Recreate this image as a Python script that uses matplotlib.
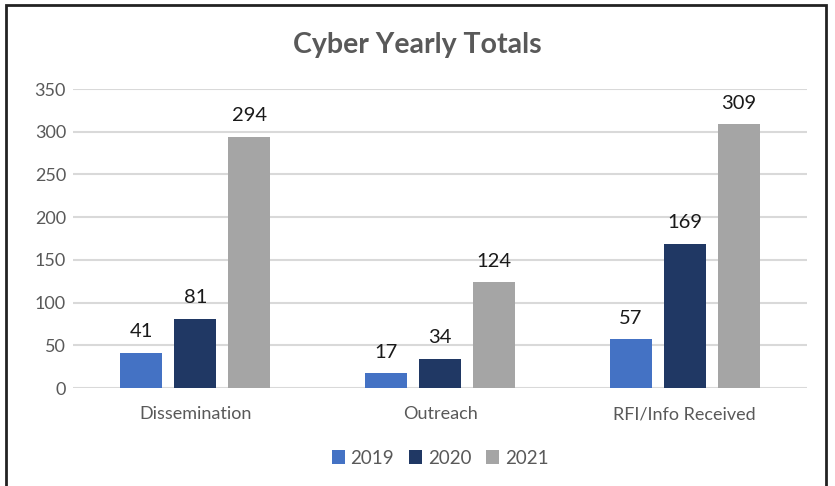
import numpy as np
import matplotlib.pyplot as plt
from matplotlib.patches import Rectangle

categories = ['Dissemination', 'Outreach', 'RFI/Info Received']
years = ['2019', '2020', '2021']
values_2019 = [41, 17, 57]
values_2020 = [81, 34, 169]
values_2021 = [294, 124, 309]
colors = ['#4472C4', '#203864', '#A5A5A5']

plt.rcParams['font.family'] = ['Lato', 'DejaVu Sans']

fig = plt.figure(figsize=(8.35, 4.86), dpi=100)
ax = fig.add_axes([73 / 835, 1 - 388 / 486, (807 - 73) / 835, (388 - 89) / 486])

x = np.arange(len(categories))
width = 0.172
step = 0.221
series = [values_2019, values_2020, values_2021]
for i, (vals, year, col) in enumerate(zip(series, years, colors)):
    bars = ax.bar(x + (i - 1) * step, vals, width, color=col, label=year, zorder=3)
    for b, v in zip(bars, vals):
        ax.annotate(str(v), (b.get_x() + b.get_width() / 2, v),
                    xytext=(0, 9), textcoords='offset points',
                    ha='center', va='bottom', fontsize=14.5, color='#1a1a1a')

ax.set_xlim(-0.5, 2.5)
ax.set_ylim(0, 350)
ax.set_yticks(range(0, 351, 50))
ax.set_xticks(x)
ax.set_xticklabels(categories)
ax.yaxis.grid(True, color='#D9D9D9', linewidth=1.5, zorder=0)
ax.set_axisbelow(True)
for s in ax.spines.values():
    s.set_visible(False)
ax.tick_params(axis='both', length=0, labelsize=13, colors='#595959')
ax.tick_params(axis='x', pad=13)
ax.tick_params(axis='y', pad=5)

fig.text(0.5, 1 - 45 / 486, 'Cyber Yearly Totals', ha='center', va='center',
         fontsize=20.5, fontweight='bold', color='#595959')

ax.legend(loc='center', bbox_to_anchor=(0.5, (388 - 458) / (388 - 89)),
          ncol=3, frameon=False, fontsize=13.5, handlelength=0.7, handleheight=0.7,
          handletextpad=0.3, columnspacing=0.8, labelcolor='#595959')

fig.patches.append(Rectangle((6 / 835, -0.02), (826 - 6) / 835, 1 - 5 / 486 + 0.02,
                             transform=fig.transFigure, fill=False,
                             edgecolor='#222222', linewidth=2))

fig.savefig('out.png', dpi=100)
